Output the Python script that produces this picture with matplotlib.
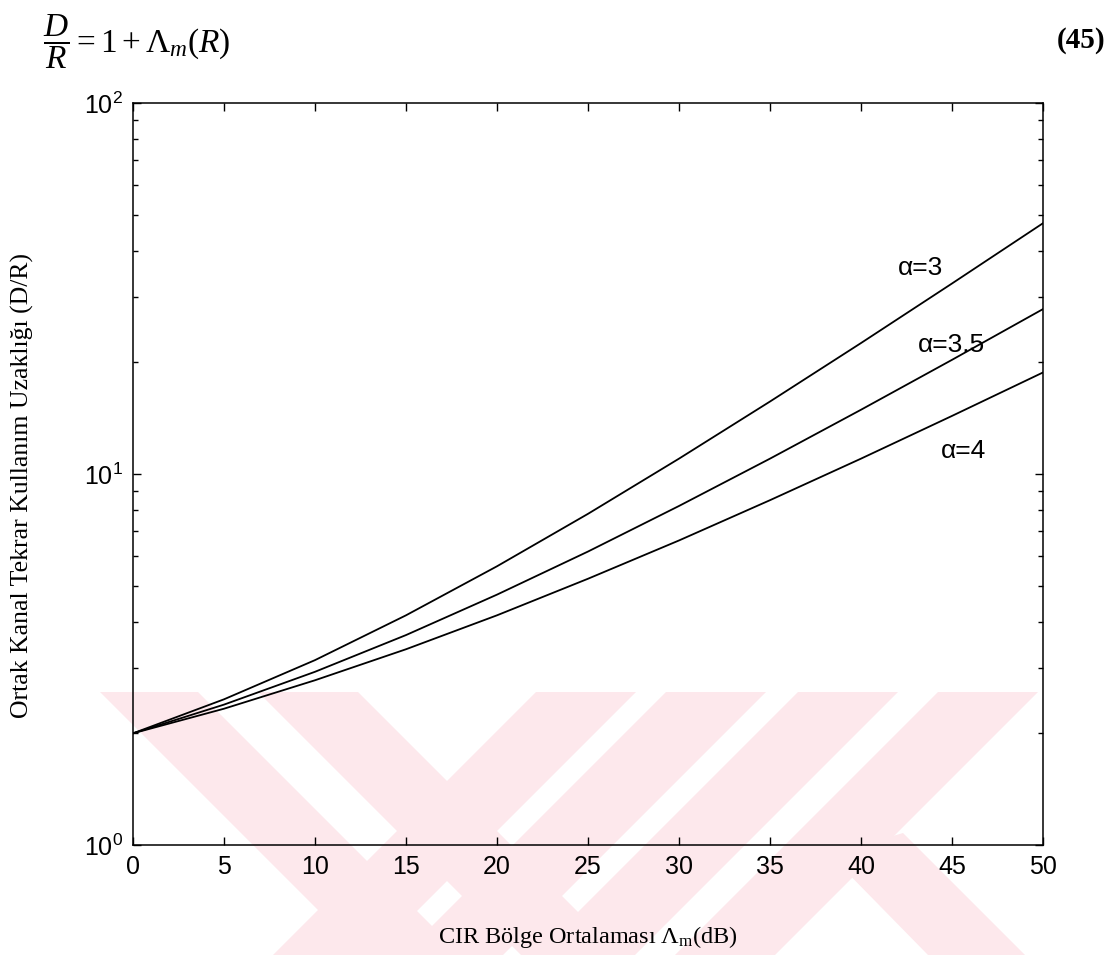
import matplotlib.pyplot as plt
from matplotlib.patches import Polygon

plt.rcParams['font.family'] = ['Liberation Sans', 'DejaVu Sans']
plt.rcParams['mathtext.fontset'] = 'custom'
plt.rcParams['mathtext.rm'] = 'Liberation Serif'
plt.rcParams['mathtext.it'] = 'Liberation Serif:italic'

# CIR bölge ortalaması (dB)
cir_db = [0, 5, 10, 15, 20, 25, 30, 35, 40, 45, 50]

# D/R oranı, yol kaybı üsteli alfa = 3, 3.5, 4
dr_a3 = [2.00, 2.47, 3.15, 4.16, 5.64, 7.81, 11.00, 15.68, 22.54, 32.62, 47.42]
dr_a35 = [2.00, 2.39, 2.93, 3.68, 4.73, 6.18, 8.20, 11.00, 14.90, 20.31, 27.83]
dr_a4 = [2.00, 2.33, 2.78, 3.37, 4.16, 5.22, 6.62, 8.50, 11.00, 14.34, 18.78]

etiketler = ['α=3', 'α=3.5', 'α=4']
etiket_x = [42.0, 43.1, 44.4]
etiket_y = [35.9, 22.3, 11.5]

W, H = 1111, 955
fig = plt.figure(figsize=(W / 100, H / 100), dpi=100)


def fp(pts):
    # piksel -> figür koordinatı
    return [(x / W, 1 - y / H) for x, y in pts]


# arka plandaki soluk filigran
pembe = '#fde8ec'
seritler = [
    [(100, 692), (198, 692), (461, 955), (363, 955)],
    [(258, 692), (358, 692), (621, 955), (521, 955)],
    [(536, 692), (636, 692), (373, 955), (273, 955)],
    [(666, 692), (766, 692), (503, 955), (403, 955)],
    [(798, 692), (898, 692), (635, 955), (535, 955)],
    [(938, 692), (1038, 692), (775, 955), (675, 955)],
    [(830, 855), (903, 833), (1025, 955), (928, 955)],
]
for s in seritler:
    fig.add_artist(Polygon(fp(s), closed=True, transform=fig.transFigure,
                           facecolor=pembe, edgecolor='none', zorder=-5))

ax = fig.add_axes([133 / W, 1 - 845 / H, 910 / W, 742 / H])
ax.set_facecolor('none')
ax.set_zorder(2)

ax.plot(cir_db, dr_a3, color='black', lw=1.3)
ax.plot(cir_db, dr_a35, color='black', lw=1.3)
ax.plot(cir_db, dr_a4, color='black', lw=1.3)

for t, x, y in zip(etiketler, etiket_x, etiket_y):
    ax.text(x, y, t, fontsize=19, va='center', ha='left')

ax.set_yscale('log')
ax.set_xlim(0, 50)
ax.set_ylim(1, 100)
ax.set_xticks(range(0, 51, 5))
ax.tick_params(which='both', direction='in', top=True, right=True, width=1)
ax.tick_params(which='major', length=6, labelsize=18, pad=7)
ax.tick_params(which='minor', length=3.5)
for sp in ax.spines.values():
    sp.set_linewidth(1.1)

fig.text(588 / W, 1 - 937 / H, r'CIR Bölge Ortalaması $\Lambda_{\mathrm{m}}$(dB)',
         family='Liberation Serif', fontsize=17.5, ha='center', va='center')
fig.text(22 / W, 1 - 485 / H, 'Ortak Kanal Tekrar Kullanım Uzaklığı (D/R)',
         family='Liberation Serif', fontsize=18.5, ha='center', va='center',
         rotation=90)

# üstteki denklem ve numarası
fig.text(43 / W, 1 - 42 / H, r'$\dfrac{D}{R} = 1 + \Lambda_m(R)$',
         fontsize=24, ha='left', va='center')
fig.text(1105 / W, 1 - 41 / H, '(45)', family='Liberation Serif',
         fontweight='bold', fontsize=21, ha='right', va='center')

fig.savefig('out.png', dpi=100)
